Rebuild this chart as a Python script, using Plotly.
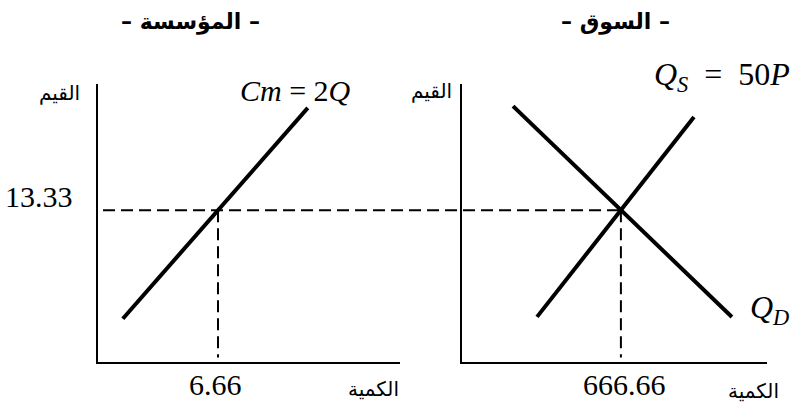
import plotly.graph_objects as go

# ---- data ----
eq_price = 13.33
firm_eq_q = 6.66
market_eq_q = 666.66

firm_q = [1.9, 11.15]          # Cm = 2Q segment
firm_cm = [3.8, 22.3]

supply_q = [198, 1075]         # Qs = 50P segment
supply_p = [3.96, 21.5]

demand_q = [64, 1287]          # Qd segment
demand_p = [22.46, 3.95]

price_label = "13.33"
firm_q_label = "6.66"
market_q_label = "666.66"
titles = ["– المؤسسة –", "– السوق –"]
y_title = "القيم"
x_title = "الكمية"

# ---- layout constants ----
W, H = 790, 417
dom1 = [97.5 / W, 400 / W]
dom2 = [461.5 / W, 767 / W]
ydom = [(H - 362) / H, (H - 84) / H]
xr1 = [0.635, 15.76]
xr2 = [-224, 1483]
yr = [0, 24.4]


def to_paper(v, dom, rng):
    return dom[0] + (v - rng[0]) / (rng[1] - rng[0]) * (dom[1] - dom[0])


fig = go.Figure()
solid = dict(color="black", width=4)
dash = dict(color="black", width=2, dash="12px,6px")

fig.add_trace(go.Scatter(x=firm_q, y=firm_cm, mode="lines", line=solid, xaxis="x", yaxis="y"))
fig.add_trace(go.Scatter(x=[firm_eq_q, firm_eq_q], y=[eq_price, 0.4], mode="lines", line=dash, xaxis="x", yaxis="y"))
fig.add_trace(go.Scatter(x=supply_q, y=supply_p, mode="lines", line=solid, xaxis="x2", yaxis="y2"))
fig.add_trace(go.Scatter(x=demand_q, y=demand_p, mode="lines", line=solid, xaxis="x2", yaxis="y2"))
fig.add_trace(go.Scatter(x=[market_eq_q, market_eq_q], y=[eq_price, 0.4], mode="lines", line=dash, xaxis="x2", yaxis="y2"))

# long horizontal dashed price line across both panels
fig.add_shape(type="line", xref="paper", yref="y",
              x0=to_paper(xr1[0], dom1, xr1) + 0.007, x1=to_paper(market_eq_q, dom2, xr2),
              y0=eq_price, y1=eq_price, line=dash)

axis_common = dict(showgrid=False, zeroline=False, showticklabels=False, ticks="",
                   showline=True, linecolor="black")
fig.update_layout(
    width=W, height=H, margin=dict(l=0, r=0, t=0, b=0),
    paper_bgcolor="white", plot_bgcolor="white", showlegend=False, hovermode=False,
    xaxis=dict(domain=dom1, range=xr1, anchor="y", linewidth=2, **axis_common),
    yaxis=dict(domain=ydom, range=yr, anchor="x", linewidth=1.5, **axis_common),
    xaxis2=dict(domain=dom2, range=xr2, anchor="y2", linewidth=2, **axis_common),
    yaxis2=dict(domain=ydom, range=yr, anchor="x2", linewidth=1.5, **axis_common),
)

ar_font = dict(family="DejaVu Sans", size=20, color="black")
title_font = dict(family="DejaVu Sans", size=22, color="black")
num_font = dict(family="Liberation Serif", size=30, color="black")
math_font = dict(family="Liberation Serif", size=30, color="black")
big_math_font = dict(family="Liberation Serif", size=32, color="black")
sp = "&nbsp;"

ann = [
    dict(text="<b>" + titles[0] + "</b>", x=190 / W, y=(H - 22) / H, xref="paper", yref="paper", font=title_font),
    dict(text="<b>" + titles[1] + "</b>", x=615 / W, y=(H - 22) / H, xref="paper", yref="paper", font=title_font),
    dict(text=y_title, x=82 / W, y=(H - 93) / H, xref="paper", yref="paper", xanchor="right", font=ar_font),
    dict(text=y_title, x=454 / W, y=(H - 91) / H, xref="paper", yref="paper", xanchor="right", font=ar_font),
    dict(text=x_title, x=373 / W, y=(H - 389) / H, xref="paper", yref="paper", font=ar_font),
    dict(text=x_title, x=753 / W, y=(H - 391) / H, xref="paper", yref="paper", font=ar_font),
    dict(text="<i>Cm</i>" + sp + "=" + sp + "2<i>Q</i>", x=295 / W, y=(H - 91) / H,
         xref="paper", yref="paper", font=math_font),
    dict(text="<i>Q<sub>S</sub></i>" + sp * 2 + "=" + sp * 2 + "50<i>P</i>", x=652 / W, y=(H - 77) / H,
         xref="paper", yref="paper", xanchor="left", font=big_math_font),
    dict(text="<i>Q<sub>D</sub></i>", x=748 / W, y=(H - 309) / H, xref="paper", yref="paper",
         xanchor="left", font=big_math_font),
    dict(text=price_label, x=39 / W, y=eq_price, xref="paper", yref="y", yshift=14, font=num_font),
    dict(text=firm_q_label, x=firm_eq_q, y=(H - 384) / H, xref="x", yref="paper", xshift=-3, font=num_font),
    dict(text=market_q_label, x=market_eq_q, y=(H - 384) / H, xref="x2", yref="paper", xshift=4, font=num_font),
]
for a in ann:
    a.setdefault("showarrow", False)
    a.setdefault("xanchor", "center")
    a.setdefault("yanchor", "middle")
    fig.add_annotation(**a)

fig.write_html("out.html", config={"displayModeBar": False},
               post_script="document.body.style.margin='0';document.body.style.overflow='hidden';")
